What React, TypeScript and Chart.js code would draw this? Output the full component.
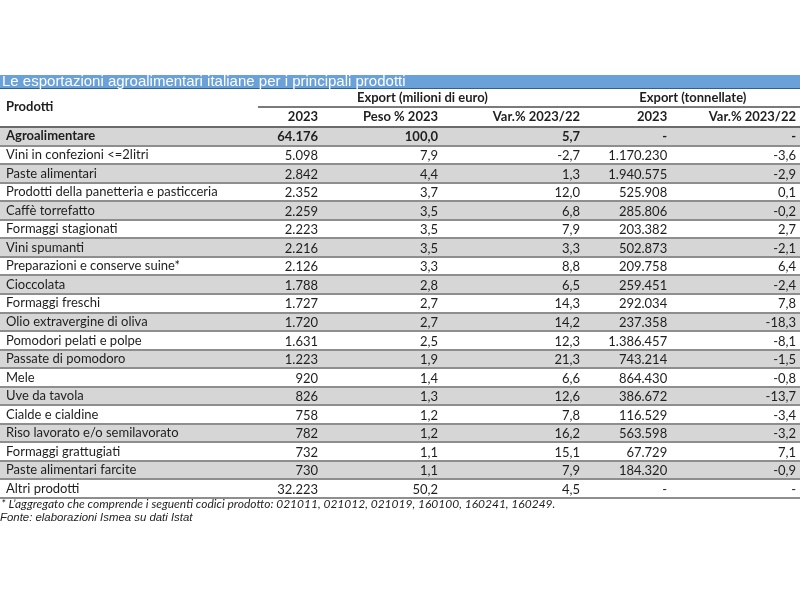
import React, { useEffect, useRef } from "react";
import { Chart, registerables } from "chart.js";

Chart.register(...registerables);

const titleText = "Le esportazioni agroalimentari italiane per i principali prodotti";
const groupHeaders = ["Export (milioni di euro)", "Export (tonnellate)"];
const columnHeaders = ["2023", "Peso % 2023", "Var.% 2023/22", "2023", "Var.% 2023/22"];
const rowHeader = "Prodotti";
const footnote = "* L\u2019aggregato che comprende i seguenti codici prodotto: 021011, 021012, 021019, 160100, 160241, 160249.";
const sourceNote = "Fonte: elaborazioni Ismea su dati Istat";

const products = [
  "Agroalimentare",
  "Vini in confezioni <=2litri",
  "Paste alimentari",
  "Prodotti della panetteria e pasticceria",
  "Caffè torrefatto",
  "Formaggi stagionati",
  "Vini spumanti",
  "Preparazioni e conserve suine*",
  "Cioccolata",
  "Formaggi freschi",
  "Olio extravergine di oliva",
  "Pomodori pelati e polpe",
  "Passate di pomodoro",
  "Mele",
  "Uve da tavola",
  "Cialde e cialdine",
  "Riso lavorato e/o semilavorato",
  "Formaggi grattugiati",
  "Paste alimentari farcite",
  "Altri prodotti",
];
const export2023 = [64176, 5098, 2842, 2352, 2259, 2223, 2216, 2126, 1788, 1727, 1720, 1631, 1223, 920, 826, 758, 782, 732, 730, 32223];
const peso2023 = [100.0, 7.9, 4.4, 3.7, 3.5, 3.5, 3.5, 3.3, 2.8, 2.7, 2.7, 2.5, 1.9, 1.4, 1.3, 1.2, 1.2, 1.1, 1.1, 50.2];
const varEuro = [5.7, -2.7, 1.3, 12.0, 6.8, 7.9, 3.3, 8.8, 6.5, 14.3, 14.2, 12.3, 21.3, 6.6, 12.6, 7.8, 16.2, 15.1, 7.9, 4.5];
const tonnes2023 = [null, 1170230, 1940575, 525908, 285806, 203382, 502873, 209758, 259451, 292034, 237358, 1386457, 743214, 864430, 386672, 116529, 563598, 67729, 184320, null];
const varTonnes = [null, -3.6, -2.9, 0.1, -0.2, 2.7, -2.1, 6.4, -2.4, 7.8, -18.3, -8.1, -1.5, -0.8, -13.7, -3.4, -3.2, 7.1, -0.9, null];

const fmtInt = (n: number | null) =>
  n === null ? "-" : String(n).replace(/\B(?=(\d{3})+(?!\d))/g, ".");
const fmtDec = (n: number | null) => (n === null ? "-" : n.toFixed(1).replace(".", ","));

// layout (fractions of x scale for right edges of numeric columns)
const COL_RIGHT = [0.3975, 0.5475, 0.725, 0.834, 0.995];
const GROUP_CENTER = [0.528, 0.866];
const FONT = "Lato";
const TEXT = "#1e1e1e";

const tablePlugin = {
  id: "tableText",
  beforeDraw(chart: any) {
    const { ctx, chartArea } = chart;
    const top = chartArea.top;
    ctx.save();
    ctx.fillStyle = "#ffffff";
    ctx.fillRect(0, 0, chart.width, chart.height);
    // title bar
    ctx.fillStyle = "#6aa1d9";
    ctx.fillRect(0, top - 52, chart.width, 14);
    ctx.fillStyle = "#2f5f8e";
    ctx.fillRect(0, top - 39, chart.width, 1);
    ctx.restore();
  },
  afterDraw(chart: any) {
    const { ctx, chartArea, scales } = chart;
    const x = scales.x;
    const y = scales.y;
    const top = chartArea.top;
    ctx.save();
    // title
    ctx.fillStyle = "#ffffff";
    ctx.font = "15px 'Liberation Sans', Arial, sans-serif";
    ctx.textBaseline = "middle";
    ctx.textAlign = "left";
    ctx.fillText(titleText, 2, top - 45);

    // header
    ctx.fillStyle = TEXT;
    ctx.font = `bold 13px ${FONT}`;
    ctx.fillText(rowHeader, 6, top - 20);
    ctx.textAlign = "center";
    groupHeaders.forEach((h, i) => {
      ctx.fillText(h, x.getPixelForValue(GROUP_CENTER[i]), top - 29);
    });
    ctx.textAlign = "right";
    columnHeaders.forEach((h, i) => {
      ctx.fillText(h, x.getPixelForValue(COL_RIGHT[i]), top - 10);
    });
    // line under group header
    ctx.fillStyle = "#7a7a7a";
    ctx.fillRect(x.getPixelForValue(0.3225), top - 21, chartArea.right - x.getPixelForValue(0.3225), 2);

    // cells
    products.forEach((_, i) => {
      const py = y.getPixelForValue(i);
      ctx.font = i === 0 ? `bold 13px ${FONT}` : `13px ${FONT}`;
      ctx.fillStyle = TEXT;
      ctx.textAlign = "right";
      const cells = [
        fmtInt(export2023[i]),
        fmtDec(peso2023[i]),
        fmtDec(varEuro[i]),
        fmtInt(tonnes2023[i]),
        fmtDec(varTonnes[i]),
      ];
      cells.forEach((c, j) => {
        ctx.fillText(c, x.getPixelForValue(COL_RIGHT[j]), py + 1);
      });
    });

    // notes
    ctx.textAlign = "left";
    ctx.fillStyle = TEXT;
    ctx.font = `italic 12px ${FONT}`;
    ctx.fillText(footnote, 1, chartArea.bottom + 6);
    ctx.fillStyle = "#222";
    ctx.font = "italic 11.4px 'Liberation Sans', Arial, sans-serif";
    ctx.fillText(sourceNote, 0, chartArea.bottom + 20);
    ctx.restore();
  },
};

export default function App() {
  const ref = useRef<HTMLCanvasElement | null>(null);
  useEffect(() => {
    if (!ref.current) return;
    const shade = products.map((_, i) => (i % 2 === 0 ? [0, 1] : null));
    const chart = new Chart(ref.current, {
      type: "bar",
      data: {
        labels: products,
        datasets: [
          {
            data: shade as any,
            backgroundColor: "#d6d6d6",
            borderWidth: 0,
            barPercentage: 1,
            categoryPercentage: 1,
          },
        ],
      },
      options: {
        indexAxis: "y",
        animation: false,
        responsive: false,
        layout: { padding: { top: 127, bottom: 102, left: 0, right: 0 } },
        plugins: { legend: { display: false }, tooltip: { enabled: false }, title: { display: false } },
        scales: {
          x: { type: "linear", min: 0, max: 1, display: false },
          y: {
            type: "category",
            offset: true,
            afterFit: (scale: any) => {
              scale.width = 0;
            },
            border: { display: false },
            grid: {
              offset: true,
              drawTicks: false,
              z: 1,
              color: (c: any) => (c.index === 0 ? "#6a6a6a" : "#8e8e8e"),
              lineWidth: 2,
            },
            ticks: {
              mirror: true,
              autoSkip: false,
              z: 2,
              padding: 6,
              color: TEXT,
              font: (c: any) => ({ family: FONT, size: 13, weight: c.index === 0 ? "bold" : "normal" }),
            },
          },
        },
      },
      plugins: [tablePlugin],
    });
    return () => chart.destroy();
  }, []);
  return (
    <div style={{ position: "absolute", left: 0, top: 0, width: 800, height: 600, background: "#fff" }}>
      <canvas ref={ref} width={800} height={600} />
    </div>
  );
}
